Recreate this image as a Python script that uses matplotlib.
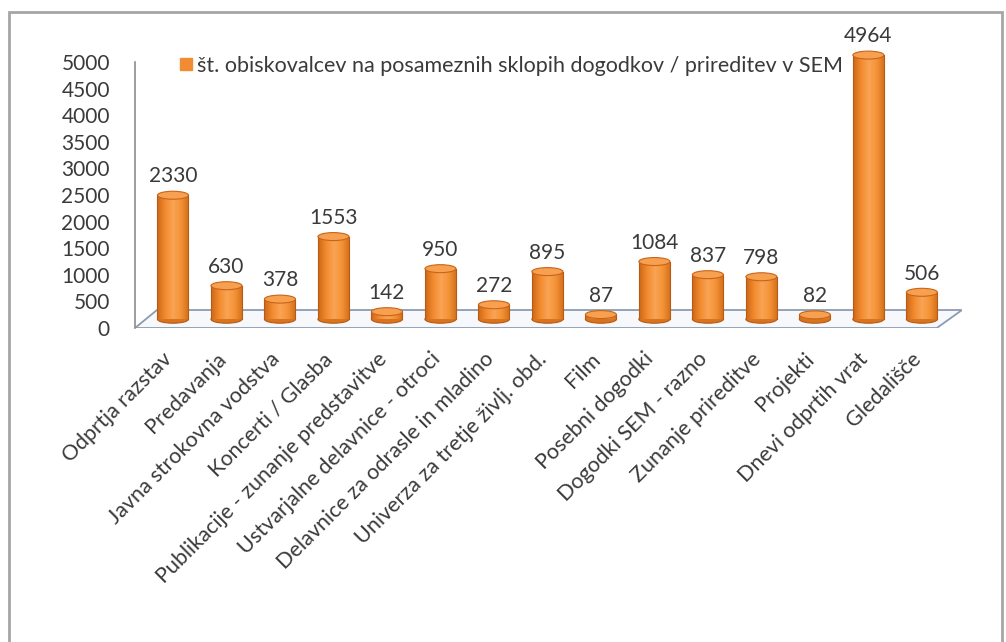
import matplotlib
matplotlib.use("Agg")
import matplotlib.pyplot as plt
import numpy as np
from matplotlib.patches import Rectangle, Ellipse, Polygon
from matplotlib.colors import LinearSegmentedColormap
from matplotlib.lines import Line2D

categories = ["Odprtja razstav", "Predavanja", "Javna strokovna vodstva", "Koncerti / Glasba",
              "Publikacije - zunanje predstavitve", "Ustvarjalne delavnice - otroci",
              "Delavnice za odrasle in mladino", "Univerza za tretje življ. obd.", "Film",
              "Posebni dogodki", "Dogodki SEM - razno", "Zunanje prireditve", "Projekti",
              "Dnevi odprtih vrat", "Gledališče"]
values = [2330, 630, 378, 1553, 142, 950, 272, 895, 87, 1084, 837, 798, 82, 4964, 506]
yticks = [0, 500, 1000, 1500, 2000, 2500, 3000, 3500, 4000, 4500, 5000]
legend_label = "št. obiskovalcev na posameznih sklopih dogodkov / prireditev v SEM"

plt.rcParams['font.family'] = ['Lato', 'DejaVu Sans']
txt = '#3a3a3a'

fig = plt.figure(figsize=(10.06, 6.42), dpi=100)
fig.patches.append(Rectangle((9/1006, -0.05), (1002-9)/1006, 1-12/642+0.05,
                             transform=fig.transFigure, fill=False,
                             edgecolor='#a6a6a6', linewidth=2.0))
ax = fig.add_axes([135/1006, 1-328/642, (962-135)/1006, (328-46)/642])
ax.set_xlim(-0.71, 14.75)
ax.set_ylim(0, 5300)
ax.patch.set_alpha(0)

for s in ['top', 'right', 'bottom']:
    ax.spines[s].set_visible(False)
ax.spines['left'].set_bounds(0, 5000)
ax.spines['left'].set_color('#8c8c8c')
ax.spines['left'].set_linewidth(1.2)

# floor (3D base)
depth = 338
floor = Polygon([(-0.71, 0), (14.28, 0), (14.75, depth), (-0.30, depth)],
                closed=True, facecolor='#f6f8fb', edgecolor='#8c9cb0', linewidth=1.3, zorder=1)
ax.add_patch(floor)

cmap = LinearSegmentedColormap.from_list('cyl', ['#cc6818', '#f28a2e', '#f9a455', '#f49336', '#d26f1c'])
grad = np.linspace(0, 1, 64).reshape(1, -1)
w = 0.58
base = 165
eh = 150
x = np.arange(len(values))
bars = ax.bar(x, values, width=w, bottom=base, color='#f28c32', edgecolor='none', zorder=3)
for xi, v, b in zip(x, values, bars):
    ax.add_patch(Ellipse((xi, base), w, eh, facecolor='#d8731f', edgecolor='#b85a12', lw=0.8, zorder=2.9))
    im = ax.imshow(grad, extent=[xi - w/2, xi + w/2, base, base + v], aspect='auto',
                   cmap=cmap, zorder=3.1, interpolation='bicubic')
    im.set_clip_path(b)
    ax.plot([xi - w/2, xi - w/2], [base, base + v], color='#b85a12', lw=0.8, zorder=3.2)
    ax.plot([xi + w/2, xi + w/2], [base, base + v], color='#b85a12', lw=0.8, zorder=3.2)
    ax.add_patch(Ellipse((xi, base + v), w, eh, facecolor='#f7a050', edgecolor='#c8641a', lw=0.8, zorder=3.3))
    ax.text(xi, base + v + eh/2 + 90, f"{v}", ha='center', va='bottom', fontsize=15, color=txt, zorder=4)

ax.set_aspect('auto')
ax.set_xlim(-0.71, 14.75)
ax.set_ylim(0, 5300)

ax.set_yticks(yticks)
ax.set_yticklabels([str(t) for t in yticks], fontsize=15, color=txt)
ax.tick_params(axis='y', length=0, pad=18)
label_offset = 0.2
ax.set_xticks(x - label_offset)
ax.set_xticklabels(categories, rotation=45, ha='right', va='top', rotation_mode='anchor',
                   fontsize=15.5, color=txt)
ax.tick_params(axis='x', length=0, pad=15)

handle = Line2D([], [], marker='s', linestyle='none', color='#f28c32', markersize=8)
fig.legend([handle], [legend_label], loc='center left', bbox_to_anchor=(167/1006, 1-66/642),
           frameon=False, fontsize=15.5, labelcolor=txt, handletextpad=0.0, borderaxespad=0,
           handlelength=1.0)

fig.savefig('out.png', dpi=100)
